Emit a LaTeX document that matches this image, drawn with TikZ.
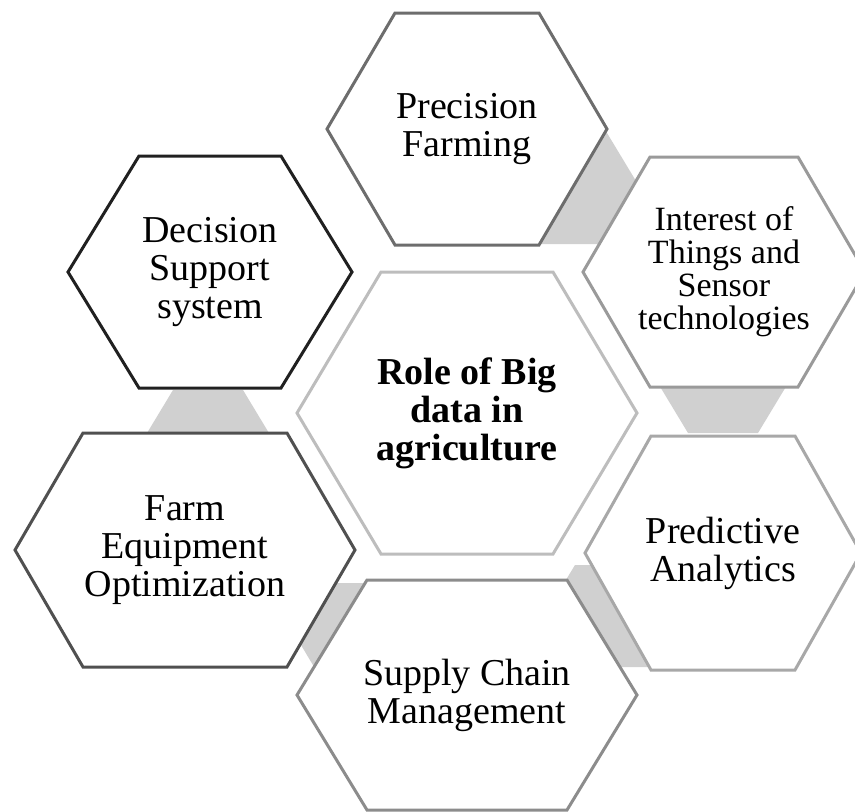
\documentclass[tikz,border=0pt]{standalone}
\usepackage{fontspec}
\setmainfont{Liberation Serif}
\usetikzlibrary{backgrounds}

\definecolor{bordeDss}{HTML}{202020}
\definecolor{bordeFeo}{HTML}{505050}
\definecolor{bordePf}{HTML}{6D6D6D}
\definecolor{bordeScm}{HTML}{8C8C8C}
\definecolor{bordeIot}{HTML}{9A9A9A}
\definecolor{bordePa}{HTML}{A8A8A8}
\definecolor{bordeRole}{HTML}{BDBDBD}
\definecolor{gris}{HTML}{D0D0D0}

\begin{document}
\begin{tikzpicture}[x=1pt,y=-1pt,
    txt/.style={align=center,font=\fontsize{38}{38}\selectfont},
    hexa/.style={draw=#1,line width=3pt,fill=white},
    enlace/.style={fill=gris}]
        \useasboundingbox (0,0) rectangle (855,812);
        % Hexágono central
            \node[txt,font=\fontsize{38}{38}\selectfont\bfseries] (role) at (467,413) {Role of Big\\data in\\agriculture};
            % Hexágonos externos con coordenadas específicas
            \node[txt] (pf) at (467,129) {Precision\\Farming};
            \node[txt,font=\fontsize{34}{33}\selectfont] (iot) at (724,272) {Interest of\\Things and\\Sensor\\technologies};
            \node[txt] (pa) at (723,553) {Predictive\\Analytics};
            \node[txt] (scm) at (467,695) {Supply Chain\\Management};
            \node[txt] (feo) at (185,550) {Farm\\Equipment\\Optimization};
            \node[txt] (dss) at (210,272) {Decision\\Support\\system};

            \begin{scope}[on background layer]
            % Piezas grises entre hexágonos
            \foreach \x/\y/\w/\t/\h in {569/186/70/35/58, 723/375/70/35/58, 613/616/69/38/51, 367/640/69/35/57, 208/448/70/35/58}
                \fill[enlace,shift={(\x,\y)}] (-\w,0) -- (-\t,-\h) -- (\t,-\h) -- (\w,0) -- (\t,\h) -- (-\t,\h) -- cycle;
            % Contornos
            \foreach \n/\w/\t/\h/\c in {role/170/86/141/bordeRole, pf/140/72/116/bordePf, iot/141/74/115/bordeIot, pa/138/72/117/bordePa, scm/170/100/115/bordeScm, feo/170/102/117/bordeFeo, dss/142/71/116/bordeDss}
                \filldraw[hexa=\c,shift={(\n.center)}] (-\w,0) -- (-\t,-\h) -- (\t,-\h) -- (\w,0) -- (\t,\h) -- (-\t,\h) -- cycle;
            \end{scope}
        \end{tikzpicture}
\end{document}
